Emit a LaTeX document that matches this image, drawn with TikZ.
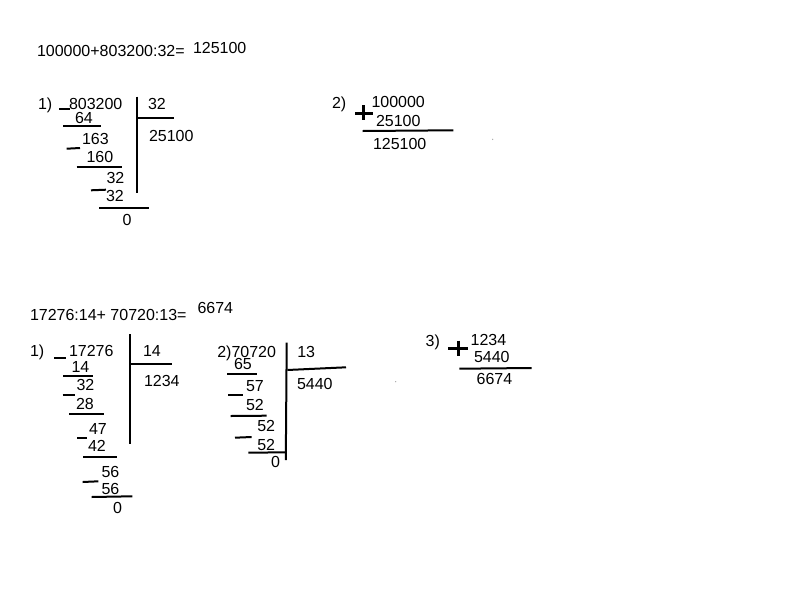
\documentclass[tikz,border=0pt]{standalone}
\usepackage{fontspec}
\setmainfont{Liberation Sans}
\begin{document}
\begin{tikzpicture}[x=1pt,y=-1pt,
  t/.style={anchor=base west,inner sep=0pt,outer sep=0pt,font=\fontsize{16}{17}\selectfont},
  ln/.style={line width=2pt},
  pl/.style={line width=2.6pt}]
\useasboundingbox[fill=white] (0,0) rectangle (800,600);
% ---------- first problem ----------
\node[t] (e1) at (37,56) {100000+803200:32=};
\node[t] (r1) at (193,53) {125100};
% division 1
\node[t] (n1) at (38,109) {1)};
\node[t] (a1) at (69,109) {803200};
\node[t] (d1) at (148,109) {32};
\node[t] (q1) at (149,141) {25100};
\node[t] (a2) at (75,123.5) {64};
\node[t] (a3) at (82,144) {163};
\node[t] (a4) at (86.5,162) {160};
\node[t] (a5) at (106.5,183) {32};
\node[t] (a6) at (106,201.5) {32};
\node[t] (a7) at (122.5,225) {0};
\draw[ln] (137.3,96.7) -- (137.3,193.3);
\draw[ln] (137.3,118.3) -- (174,118.3);
\draw[ln] (59,109.3) -- (70,109.3);
\draw[ln] (63.3,125.7) -- (101,125.7);
\draw[ln] (66.7,148.7) -- (80,148);
\draw[ln] (76.7,166.7) -- (121.7,166.7);
\draw[ln] (91,190.3) -- (106,189.7);
\draw[ln] (99.3,208.3) -- (149.3,208.3);
% addition 2
\node[t] (n2) at (332,108) {2)};
\node[t] (b1) at (371.5,107.3) {100000};
\node[t] (b2) at (376,126) {25100};
\node[t] (b3) at (373,149) {125100};
\draw[pl] (355,113.3) -- (372.7,113.3) (363.5,105) -- (363.5,119.5);
\draw[ln] (362.7,131) -- (453.3,130.3);
\fill[gray!70] (492.7,139.3) circle (0.7);
% ---------- second problem ----------
\node[t] (e2) at (30,320) {17276:14+ 70720:13=};
\node[t] (r2) at (197.5,313.3) {6674};
% division 1
\node[t] (m1) at (30,356.7) {1)};
\node[t] (c1) at (69,356.7) {17276};
\node[t] (dd1) at (143,356.7) {14};
\node[t] (qq1) at (144,386.7) {1234};
\node[t] (c2) at (71.5,372.3) {14};
\node[t] (c3) at (76.5,390) {32};
\node[t] (c4) at (76,409) {28};
\node[t] (c5) at (89,434.3) {47};
\node[t] (c6) at (88,451) {42};
\node[t] (c7) at (101.5,477.7) {56};
\node[t] (c8) at (101.5,494.3) {56};
\node[t] (c9) at (113,513.3) {0};
\draw[ln] (130,334.3) -- (130,444.3);
\draw[ln] (131,364.3) -- (171.7,364.3);
\draw[ln] (54,357.7) -- (66,357.7);
\draw[ln] (63.3,375.7) -- (92.7,375.7);
\draw[ln] (62.7,395) -- (75,395);
\draw[ln] (69.3,414.3) -- (104.3,414.3);
\draw[ln] (77.3,438.3) -- (86.7,438.3);
\draw[ln] (83.3,456.7) -- (116.7,456.7);
\draw[ln] (82.7,482) -- (98.3,481.3);
\draw[ln] (91.7,497) -- (132.3,496.3);
% division 2
\node[t] (m2) at (217.3,357.3) {2)70720};
\node[t] (dd2) at (297.3,357.3) {13};
\node[t] (qq2) at (297,389.5) {5440};
\node[t] (f1) at (234,369.8) {65};
\node[t] (f2) at (246,391) {57};
\node[t] (f3) at (246,410) {52};
\node[t] (f4) at (257.3,431.7) {52};
\node[t] (f5) at (257.3,450) {52};
\node[t] (f6) at (271,467.3) {0};
\draw[ln] (286.7,342.7) -- (285.8,460);
\draw[ln] (287.3,370) -- (346,367.3);
\draw[ln] (227.3,374) -- (256.7,374);
\draw[ln] (228.3,395) -- (243.3,395);
\draw[ln] (230.7,416) -- (266.7,415.7);
\draw[ln] (235,437.7) -- (251.7,437);
\draw[ln] (248.3,452.7) -- (286,452.3);
% addition 3
\node[t] (m3) at (425.7,346) {3)};
\node[t] (g1) at (470.7,345) {1234};
\node[t] (g2) at (474,362.7) {5440};
\node[t] (g3) at (476.7,384) {6674};
\draw[pl] (448.3,348.3) -- (468.3,348.3) (458.3,340.5) -- (458.3,356.3);
\draw[ln] (459.3,368.7) -- (531.7,368);
\fill[gray!70] (395.7,381.7) circle (0.7);
\end{tikzpicture}
\end{document}
